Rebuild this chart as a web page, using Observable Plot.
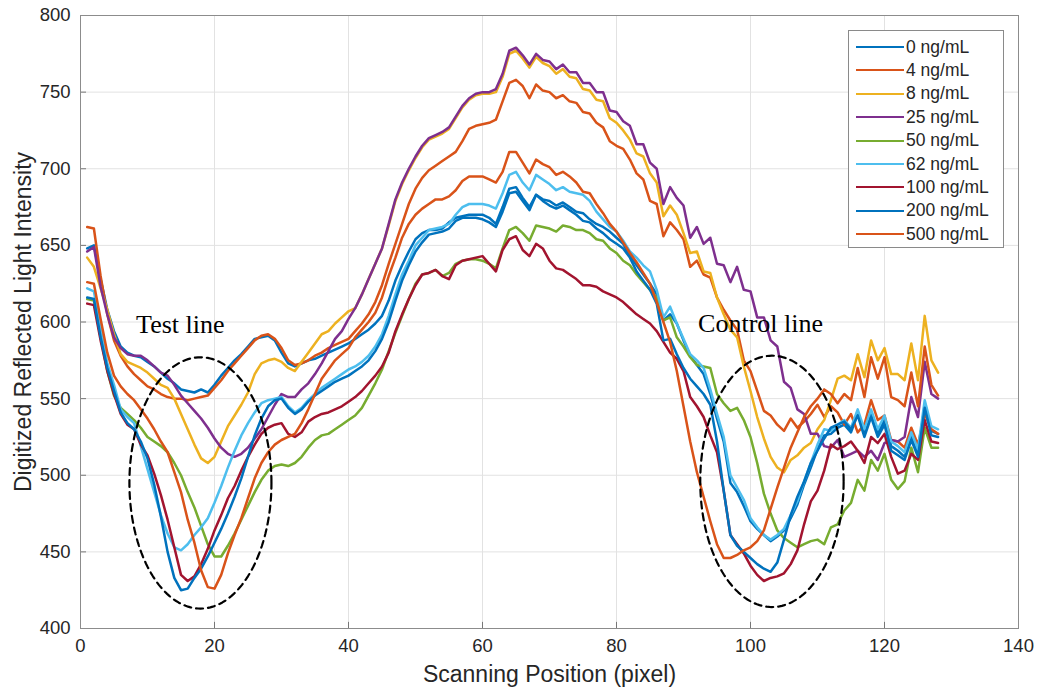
<!DOCTYPE html>
<html><head><meta charset="utf-8">
<script src="https://cdn.jsdelivr.net/npm/d3@7"></script>
<script src="https://cdn.jsdelivr.net/npm/@observablehq/plot@0.6"></script>
<style>
body{margin:0;background:#fff;}
#wrap{position:relative;width:1040px;height:697px;}
#legend{position:absolute;left:848px;top:30px;width:156px;height:218px;border:1px solid #8a8a8a;background:#fff;box-sizing:border-box;font-family:"Liberation Sans",Arial,sans-serif;font-size:17.5px;color:#262626;}
.item{position:absolute;left:0;height:20px;display:flex;align-items:center;white-space:nowrap;}
.sw{width:48px;height:0;border-top:2.5px solid;margin-left:7px;margin-right:2px;}
</style></head><body><div id="wrap"><div id="legend"></div></div>
<script>
// Scanning position (pixel index)
const positions = d3.range(1, 129);
const xTicks = [0, 20, 40, 60, 80, 100, 120, 140];
const yTicks = [400, 450, 500, 550, 600, 650, 700, 750, 800];
const names = ["0 ng/mL","4 ng/mL","8 ng/mL","25 ng/mL","50 ng/mL","62 ng/mL","100 ng/mL","200 ng/mL","500 ng/mL"];
const colors = ["#0072BD","#D95319","#EDB120","#7E2F8E","#77AC30","#4DBEEE","#A2142F","#0072BD","#D95319"];

const s0 = [648,650,628,608,594,584,580,578,577,574,571,567,563,560,556,555,
554,556,554,559,565,570,575,579,584,589,590,591,588,580,573,571,
573,575,576,578,580,582,584,586,589,592,595,599,604,614,627,637,
646,654,658,660,660,661,665,668,669,670,670,670,668,664,675,687,
688,681,675,683,680,679,676,678,675,672,671,667,664,662,659,655,
651,643,637,631,625,618,601,605,599,588,578,572,566,553,537,522,
495,489,480,470,465,461,457,460,464,472,481,494,505,517,526,527,
531,533,528,540,527,540,527,536,519,516,512,525,514,546,529,527];
const s4 = [662,661,630,605,588,578,571,566,562,558,556,553,551,550,550,549,
550,551,552,557,562,568,573,578,583,588,591,592,589,583,575,572,
573,575,578,580,583,585,587,589,594,599,605,613,624,638,651,664,
677,687,694,699,702,705,708,711,718,726,728,729,730,732,744,756,
758,754,746,755,751,750,746,748,744,743,737,736,730,727,718,715,
713,706,697,693,679,677,656,665,660,654,636,640,631,629,616,608,
601,595,575,568,555,542,539,533,529,537,531,535,540,546,538,545,
541,533,540,528,533,549,536,539,523,522,518,531,520,540,530,527];
const s8 = [642,636,622,608,592,579,574,572,570,567,563,559,557,550,540,530,
520,511,508,512,522,532,539,546,554,566,573,575,576,574,570,568,
574,580,586,592,594,599,603,607,609,618,628,638,648,663,679,690,
699,707,714,719,721,723,726,733,740,745,748,749,749,750,760,775,
777,772,766,773,769,767,762,765,760,759,752,751,745,744,733,730,
725,719,710,708,697,691,669,676,670,658,645,646,633,632,616,605,
595,590,571,555,538,524,512,505,502,510,513,518,521,530,536,549,
563,565,562,579,564,588,575,583,566,566,562,586,562,604,575,567];
const s25 = [646,649,623,605,590,583,579,578,578,575,571,567,565,559,552,547,
542,537,531,524,518,514,512,514,518,524,530,538,546,553,551,551,
556,560,566,573,581,589,594,602,609,618,628,638,648,664,680,691,
700,708,715,720,722,724,727,734,741,746,749,750,750,752,762,777,
779,774,768,775,771,770,765,768,763,763,756,756,750,750,738,737,
731,728,716,716,704,700,677,688,681,676,655,662,651,655,638,637,
626,636,621,620,603,603,588,584,561,557,543,540,527,527,519,518,
523,512,514,516,512,516,510,521,523,522,525,551,538,574,553,550];
const s50 = [615,614,590,568,552,544,540,536,531,525,522,519,515,508,500,489,
479,467,455,447,447,454,462,471,480,489,497,503,506,507,506,508,
512,518,523,526,527,530,533,536,539,544,552,560,569,581,593,604,
615,625,631,632,634,630,632,638,640,641,641,640,638,635,648,660,
662,658,653,663,662,661,659,663,662,660,660,658,654,653,648,645,
640,637,631,626,621,616,601,603,590,584,577,572,571,570,553,547,
542,544,536,525,508,488,475,464,459,456,453,455,457,458,455,466,
468,477,482,497,490,510,503,514,497,491,496,518,502,531,518,518];
const s62 = [622,620,596,573,559,543,538,534,519,504,489,474,462,453,451,455,
461,466,472,482,493,505,516,526,534,541,547,549,550,551,545,541,
544,549,553,557,560,563,566,569,571,574,578,584,592,604,618,631,
640,650,655,660,661,662,664,670,675,677,677,677,676,674,684,696,
698,691,686,696,693,690,686,688,685,684,683,679,672,667,662,659,
653,646,642,637,633,621,603,610,599,589,579,575,570,556,540,525,
500,492,484,472,466,461,458,461,465,474,483,496,508,520,530,529,
533,536,531,543,530,543,530,539,522,519,515,528,517,549,532,530];
const s100 = [612,611,588,568,553,540,533,530,520,513,501,487,471,453,435,431,
434,442,452,464,474,485,493,503,512,520,527,531,533,534,527,525,
528,535,538,540,541,543,545,548,551,555,560,565,571,580,594,605,
615,624,631,632,634,630,628,637,640,641,642,643,638,633,647,654,
656,647,643,651,648,640,635,634,631,628,624,624,623,620,618,616,
613,609,605,602,599,594,587,580,576,568,551,545,538,526,515,490,
461,455,449,441,435,431,433,434,436,442,451,468,483,490,503,520,
517,519,522,516,508,525,521,527,512,501,503,514,510,536,522,521];
const s200 = [616,615,590,570,555,541,534,530,522,511,494,473,450,433,425,426,
433,439,447,456,465,475,486,498,512,526,537,545,549,550,544,540,
543,548,552,555,558,561,563,565,568,571,575,581,589,600,614,627,
637,646,652,657,658,659,661,666,668,668,668,667,665,662,672,684,
685,679,673,683,679,676,674,676,673,670,666,665,661,658,654,651,
648,642,633,627,621,612,588,589,579,570,563,558,553,546,522,490,
461,454,450,446,442,439,437,443,458,474,486,496,508,516,524,531,
533,535,530,539,525,538,525,533,516,513,510,523,512,544,526,525];
const s500 = [626,625,602,580,565,558,553,549,543,537,530,522,515,502,489,471,
456,438,427,426,435,449,461,472,485,498,508,515,520,523,525,527,
534,543,553,563,569,575,579,583,590,595,600,606,616,630,642,655,
664,670,674,677,680,680,682,686,692,695,695,695,693,691,698,711,
711,704,697,706,703,701,696,698,695,691,685,684,677,671,664,659,
652,645,639,632,625,613,600,587,568,545,522,502,486,470,455,446,
446,448,451,453,457,464,478,492,505,518,528,538,545,550,556,553,
547,553,549,570,551,577,563,577,551,549,545,567,545,584,559,552];

const seriesValues = [s0, s4, s8, s25, s50, s62, s100, s200, s500];

// annotations (data coordinates)
const labels = ["Test line", "Control line"];
const labelX = [14.9, 101.5];
const labelY = [598, 599];
const ellipseCx = [17.9, 103.2];
const ellipseCy = [495, 496];
const ellipseRx = [10.6, 10.7];
const ellipseRy = [82, 82];

const lineMarks = seriesValues.map((vals, k) =>
  Plot.line(vals.map((v, i) => ({x: positions[i], y: v})), {x: "x", y: "y", stroke: colors[k], strokeWidth: 2.5, strokeLinejoin: "round"})
);

const angles = d3.range(0, 361, 2);
const ellipseMarks = ellipseCx.map((cx, k) =>
  Plot.line(angles.map(a => ({x: cx + ellipseRx[k] * Math.cos(a * Math.PI / 180), y: ellipseCy[k] + ellipseRy[k] * Math.sin(a * Math.PI / 180)})),
    {x: "x", y: "y", stroke: "#000", strokeWidth: 2.2, strokeDasharray: "7,5", curve: "linear"})
);

const annot = labels.map((t, i) => ({t, x: labelX[i], y: labelY[i]}));

const chart = Plot.plot({
  width: 1040, height: 697,
  marginLeft: 80, marginRight: 22, marginTop: 15, marginBottom: 69,
  x: {domain: [0, 140]},
  y: {domain: [400, 800]},
  style: {fontFamily: "'Liberation Sans', Arial, sans-serif", fontSize: "18px", color: "#262626", background: "#fff"},
  marks: [
    Plot.gridX(xTicks, {stroke: "#e2e2e2", strokeOpacity: 1}),
    Plot.gridY(yTicks, {stroke: "#e2e2e2", strokeOpacity: 1}),
    Plot.axisX(xTicks, {tickSize: 0, tickPadding: 10, label: null, fontSize: 18.5}),
    Plot.axisY(yTicks, {tickSize: 0, tickPadding: 10, label: null, fontSize: 18.5}),
    Plot.ruleX(xTicks, {y1: 400, y2: 404, stroke: "#777"}),
    Plot.ruleY(yTicks, {x1: 0, x2: 0.9, stroke: "#777"}),
    ...lineMarks,
    ...ellipseMarks,
    Plot.text(annot, {x: "x", y: "y", text: "t", fontFamily: "'Liberation Serif', 'Times New Roman', serif", fontSize: 26, fill: "#000"}),
    Plot.frame({stroke: "#8c8c8c"}),
    Plot.text(["Scanning Position (pixel)"], {frameAnchor: "bottom", textAnchor: "middle", dy: 53, fontSize: 23, fill: "#262626"}),
    Plot.text(["Digitized Reflected Light Intensity"], {frameAnchor: "left", textAnchor: "middle", rotate: -90, dx: -57, fontSize: 23, fill: "#262626"})
  ]
});
document.getElementById("wrap").prepend(chart);

const legend = document.getElementById("legend");
names.forEach((n, i) => {
  const it = document.createElement("div");
  it.className = "item";
  it.style.top = (6 + i * 23.4) + "px";
  const sw = document.createElement("span");
  sw.className = "sw";
  sw.style.borderTopColor = colors[i];
  const tx = document.createElement("span");
  tx.textContent = n;
  it.appendChild(sw); it.appendChild(tx);
  legend.appendChild(it);
});
</script></body></html>
